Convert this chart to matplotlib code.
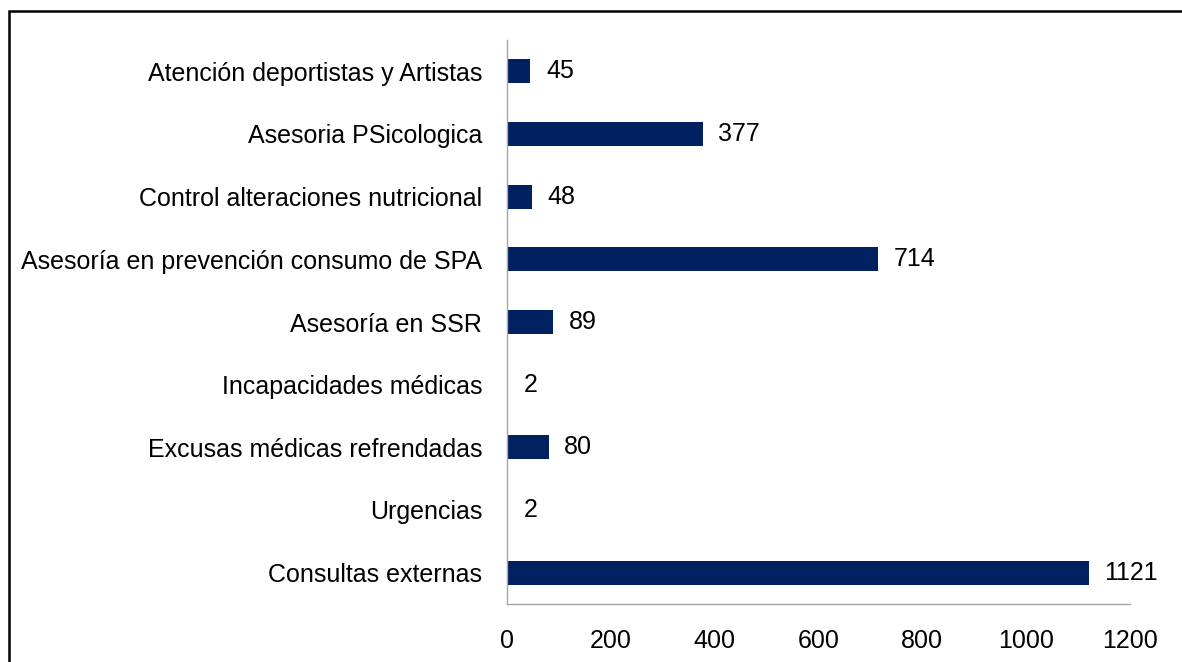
import matplotlib
matplotlib.use("Agg")
import matplotlib.pyplot as plt
from matplotlib.patches import Rectangle
from matplotlib import font_manager

categories = [
    "Consultas externas",
    "Urgencias",
    "Excusas médicas refrendadas",
    "Incapacidades médicas",
    "Asesoría en SSR",
    "Asesoría en prevención consumo de SPA",
    "Control alteraciones nutricional",
    "Asesoria PSicologica",
    "Atención deportistas y Artistas",
]
values = [1121, 2, 80, 2, 89, 714, 48, 377, 45]
xticks = [0, 200, 400, 600, 800, 1000, 1200]

names = {f.name for f in font_manager.fontManager.ttflist}
fam = 'Liberation Sans Narrow' if 'Liberation Sans Narrow' in names else 'Liberation Sans'
fs = 19 if fam == 'Liberation Sans Narrow' else 18
plt.rcParams['font.family'] = [fam, 'DejaVu Sans']

fig = plt.figure(figsize=(11.82, 6.62), dpi=100)
ax = fig.add_axes([507/1182, 1 - 604/662, (1130-507)/1182, (604-40)/662])

bar_color = "#002060"
ypos = list(range(len(categories)))
ax.barh(ypos, values, height=0.38, color=bar_color)
ax.set_ylim(-0.5, len(categories) - 0.5)
ax.set_xlim(0, 1200)
ax.set_yticks(ypos)
ax.set_yticklabels(categories, fontsize=fs)
ax.set_xticks(xticks)
ax.set_xticklabels([str(t) for t in xticks], fontsize=fs)
ax.tick_params(axis='y', length=0, pad=18)
ax.tick_params(axis='x', length=0, pad=18)

for y, v in zip(ypos, values):
    ax.text(v + 30, y, str(v), va='center', ha='left', fontsize=fs)

for s in ['top', 'right']:
    ax.spines[s].set_visible(False)
for s in ['left', 'bottom']:
    ax.spines[s].set_color('#A6A6A6')
    ax.spines[s].set_linewidth(1.0)

# outer frame (chart area border, cut off at right and bottom)
fig.patches.append(Rectangle((9/1182, -0.05), 1.2, 1 - 11/662 + 0.05,
                             transform=fig.transFigure, fill=False,
                             edgecolor='black', linewidth=1.8))

fig.savefig("out.png", dpi=100)
